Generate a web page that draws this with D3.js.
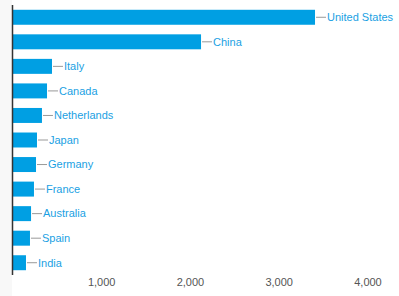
<!DOCTYPE html>
<html>
<head>
<meta charset="utf-8">
<script src="https://cdn.jsdelivr.net/npm/d3@7"></script>
<style>
  body { margin: 0; background: #fff; }
  text { font-family: "Liberation Sans", Arial, sans-serif; }
</style>
</head>
<body>
<script>
const countries = ["United States", "China", "Italy", "Canada", "Netherlands", "Japan",
                   "Germany", "France", "Australia", "Spain", "India"];
const values = [3409, 2125, 446, 390, 333, 277, 266, 243, 210, 198, 153];
const tickValues = [1000, 2000, 3000, 4000];

const width = 399, height = 296;
const margin = {top: 5, left: 12.4, bottom: 21};

var svg = d3.select("body").append("svg")
   .attr("width", width)
   .attr("height", height);

// pale strip left of the axis
svg.append("rect")
   .attr("x", 0).attr("y", 0)
   .attr("width", 12).attr("height", height)
   .attr("fill", "#f8f8f8");

let x = d3.scaleLinear()
   .domain([0, 4300])
   .range([margin.left, margin.left + 4300 * 0.08877]);

let y = d3.scaleBand()
   .domain(countries)
   .range([margin.top, height - margin.bottom])
   .paddingInner(0.39)
   .paddingOuter(0.195);

const data = countries.map((c, i) => ({name: c, value: values[i]}));

svg.selectAll("rect.bar")
   .data(data)
   .enter()
   .append("rect")
   .attr("class", "bar")
   .attr("x", x(0))
   .attr("y", d => y(d.name))
   .attr("width", d => x(d.value) - x(0))
   .attr("height", y.bandwidth())
   .attr("fill", "#009fe3");

svg.selectAll("line.leader")
   .data(data)
   .enter()
   .append("line")
   .attr("class", "leader")
   .attr("x1", d => x(d.value) + 1)
   .attr("x2", d => x(d.value) + 11)
   .attr("y1", d => y(d.name) + y.bandwidth() / 2)
   .attr("y2", d => y(d.name) + y.bandwidth() / 2)
   .attr("stroke", "#999")
   .attr("stroke-width", 1);

svg.selectAll("text.label")
   .data(data)
   .enter()
   .append("text")
   .attr("class", "label")
   .attr("x", d => x(d.value) + 12)
   .attr("y", d => y(d.name) + y.bandwidth() / 2)
   .attr("dy", "0.35em")
   .attr("fill", "#1a9fe3")
   .style("font-size", "11px")
   .text(d => d.name);

// x axis labels, no tick marks or domain line
let xAxis = d3.axisBottom(x)
   .tickValues(tickValues)
   .tickSize(0)
   .tickPadding(0)
   .tickFormat(d3.format(","));

let gx = svg.append("g")
   .attr("transform", `translate(0, ${height - 14})`)
   .call(xAxis);
gx.select(".domain").remove();
gx.selectAll("text")
   .attr("dy", "0.35em")
   .attr("y", 0)
   .attr("fill", "#555")
   .style("font-size", "11px")
   .style("font-family", "'Liberation Sans', Arial, sans-serif");

// y axis line
svg.append("line")
   .attr("x1", 12.5).attr("x2", 12.5)
   .attr("y1", margin.top).attr("y2", height - margin.bottom)
   .attr("stroke", "#333")
   .attr("stroke-width", 1.5);
</script>
</body>
</html>
